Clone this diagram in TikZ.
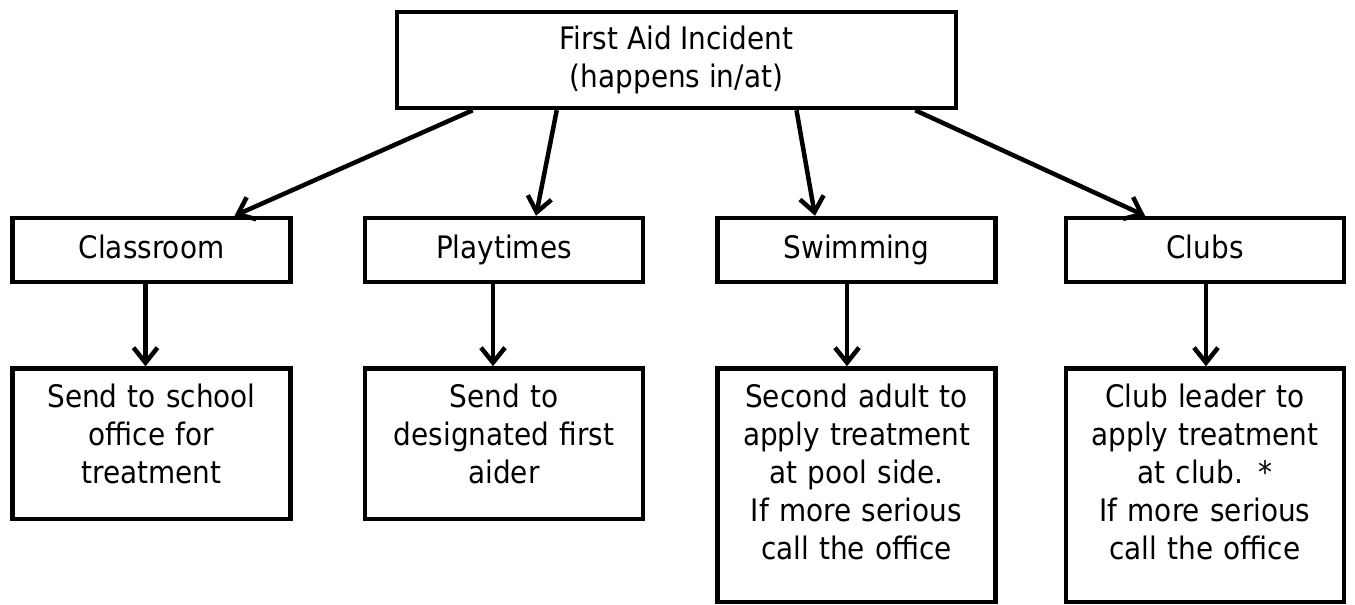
\documentclass[tikz,border=0pt]{standalone}
\usepackage{fontspec}
\setmainfont{DejaVu Sans Condensed}
\usepackage{tikz}
\usetikzlibrary{positioning,arrows.meta}

\begin{document}
\begin{tikzpicture}[x=1pt, y=1pt, line width=4.5pt, >={Straight Barb[length=15pt,width=24pt]}]
    % Define styles
    \tikzstyle{incident} = [rectangle, draw, minimum width=559pt, minimum height=96pt, align=center, font=\fontsize{31}{38}\selectfont]
    \tikzstyle{location} = [rectangle, draw, minimum width=278pt, minimum height=64pt, text height=23pt, text depth=7pt, font=\fontsize{31}{38}\selectfont]
    \tikzstyle{action} = [rectangle, draw, minimum width=278pt, text width=262pt, inner xsep=8pt, inner ysep=15pt, align=center, text height=24pt, font=\fontsize{31}{38}\selectfont]

    \useasboundingbox (0,0) rectangle (1355,-605);

    % Incident
    \node [incident] (incident) at (676.5,-60) {First Aid Incident\\(happens in/at)};

    % Where it happens
    \node [location] (classroom) at (151.5,-250) {Classroom};
    \node [location] (playtimes) at (504,-250) {Playtimes};
    \node [location] (swimming) at (856.5,-250) {Swimming};
    \node [location] (clubs) at (1205,-250) {Clubs};

    % What to do
    \node [action, text depth=96.5pt, below=82pt of classroom] (office) {Send to school\\office for\\treatment};
    \node [action, text depth=96.5pt, below=82pt of playtimes] (aider) {Send to\\designated first\\aider};
    \node [action, text depth=179.5pt, below=82pt of swimming] (poolside) {Second adult to\\apply treatment\\at pool side.\\If more serious\\call the office};
    \node [action, text depth=179.5pt, below=82pt of clubs] (leader) {Club leader to\\apply treatment\\at club. *\\If more serious\\call the office};

    % Arrows
    \draw [->] ([xshift=78pt]incident.south west) -- ([xshift=83pt]classroom.north);
    \draw [->] ([xshift=162pt]incident.south west) -- ([xshift=32pt]playtimes.north);
    \draw [->] ([xshift=120pt]incident.south) -- ([xshift=-41.5pt]swimming.north);
    \draw [->] ([xshift=-43pt]incident.south east) -- ([xshift=-60pt]clubs.north);

    \draw [->] ([xshift=-6pt]classroom.south) -- ([xshift=-6pt]office.north);
    \draw [->] ([xshift=-11pt]playtimes.south) -- ([xshift=-11pt]aider.north);
    \draw [->] ([xshift=-9.5pt]swimming.south) -- ([xshift=-9.5pt]poolside.north);
    \draw [->] ([xshift=1pt]clubs.south) -- ([xshift=1pt]leader.north);
\end{tikzpicture}
\end{document}
